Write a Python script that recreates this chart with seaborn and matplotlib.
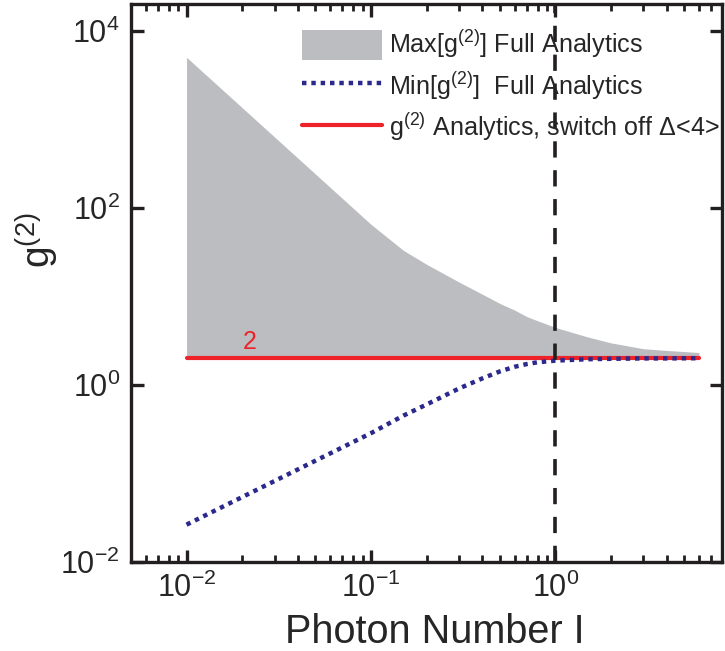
import numpy as np
import pandas as pd
import matplotlib
matplotlib.use("Agg")
import matplotlib.pyplot as plt
import seaborn as sns
from matplotlib.ticker import LogLocator, NullLocator, NullFormatter

# Photon number grid and the bounds of g2
photon_number = [0.01, 0.1, 0.15, 0.2, 0.3, 0.4, 0.5, 0.6, 0.7, 0.8, 1.0, 1.5, 2.0, 3.0, 4.0, 6.0]
g2_max = [5000, 65, 33, 23, 14.5, 10.6, 8.3, 7.0, 5.9, 5.3, 4.45, 3.47, 2.98, 2.56, 2.45, 2.32]
g2_min = [0.0264, 0.285, 0.45, 0.60, 0.91, 1.18, 1.42, 1.60, 1.72, 1.80, 1.88, 1.95, 1.97, 1.99, 1.99, 2.0]
g2_switch_off = 2.0
threshold_photon = 1.0

legend_labels = [
    r"Max[g$^{(2)}$] Full Analytics",
    r"Min[g$^{(2)}$]  Full Analytics",
    r"g$^{(2)}$ Analytics, switch off $\Delta$<4>",
]

sns.set_style("ticks")
plt.rcParams["font.family"] = ["Liberation Sans", "DejaVu Sans"]
plt.rcParams["mathtext.fontset"] = "custom"
plt.rcParams["mathtext.rm"] = "Liberation Sans"
plt.rcParams["mathtext.it"] = "Liberation Sans"
plt.rcParams["axes.unicode_minus"] = False

df = pd.DataFrame({
    "I": photon_number,
    "gmax": g2_max,
    "gmin": g2_min,
    "gflat": [g2_switch_off] * len(photon_number),
})

fig = plt.figure(figsize=(7.25, 6.51), dpi=100)
ax = fig.add_axes([0.1807, 0.1367, 0.8152, 0.8572])

ax.fill_between(df["I"], df["gflat"], df["gmax"], color="#bcbdc1",
                linewidth=0, label=legend_labels[0])
sns.lineplot(data=df, x="I", y="gflat", ax=ax, color="#ee2229", linewidth=3,
             label=legend_labels[2], zorder=3)
sns.lineplot(data=df, x="I", y="gmin", ax=ax, color="#2b2a8c", linewidth=3.2,
             linestyle=(0, (1, 1.1)), label=legend_labels[1], zorder=4)
ax.axvline(threshold_photon, color="#231f20", linewidth=2.6,
           linestyle=(0, (4.5, 3.5)), zorder=5)

ax.text(0.022, g2_switch_off * 1.12, "2", color="#ee2229", fontsize=18,
        ha="center", va="bottom")

ax.set_xscale("log")
ax.set_yscale("log")
ax.set_xlim(0.005, 8)
ax.set_ylim(1e-2, 2e4)
ax.set_yticks([1e-2, 1e0, 1e2, 1e4])
ax.yaxis.set_minor_locator(NullLocator())
ax.xaxis.set_major_locator(LogLocator(base=10, numticks=10))
ax.xaxis.set_minor_locator(LogLocator(base=10, subs=np.arange(2, 10), numticks=10))
ax.xaxis.set_minor_formatter(NullFormatter())

for s in ax.spines.values():
    s.set_linewidth(2.4)
    s.set_color("#231f20")
ax.tick_params(which="both", direction="in", top=True, right=True,
               color="#231f20", labelsize=22, pad=8)
ax.tick_params(which="major", length=9, width=2.4)
ax.tick_params(which="minor", length=5, width=2.0)

ax.set_xlabel("Photon Number I", fontsize=28.5)
ax.set_ylabel(r"g$^{(2)}$", fontsize=28)
ax.xaxis.set_label_coords(0.514, -0.092)
ax.yaxis.set_label_coords(-0.118, 0.577)

handles, labels = ax.get_legend_handles_labels()
order = [labels.index(l) for l in legend_labels]
ax.legend([handles[i] for i in order], [labels[i] for i in order],
          loc="upper right", frameon=False, fontsize=18.1,
          handlelength=3.2, handleheight=1.45, handletextpad=0.25,
          labelspacing=0.38, borderaxespad=0.0, bbox_to_anchor=(1.012, 0.975))

fig.savefig("out.png", dpi=100)
